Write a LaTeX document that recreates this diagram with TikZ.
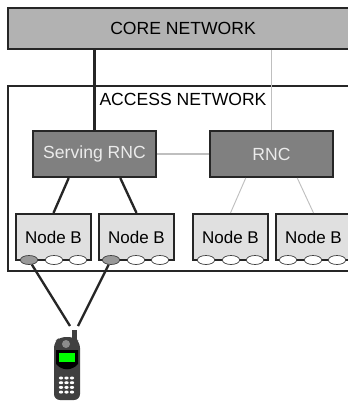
\documentclass[tikz,border=0pt]{standalone}
\usepackage{fontspec}
\setmainfont{Liberation Sans}
\usetikzlibrary{shapes}
\tikzset{
    boxline/.style={draw=black!85,line width=1.8pt,rectangle,inner sep=0pt},
    corebox/.style={boxline,fill=black!30,minimum width=10.56cm,minimum height=1.23cm,font=\fontsize{15}{18}\selectfont},
    rncbox/.style={boxline,fill=black!50,text=black!8,minimum width=3.69cm,minimum height=1.38cm,font=\fontsize{15}{18}\selectfont},
    nodebbox/.style={boxline,fill=black!12,minimum width=2.25cm,minimum height=1.38cm,font=\fontsize{14.5}{18}\selectfont},
    port/.style={draw=black!75,line width=.6pt,ellipse,fill=white,minimum width=.52cm,minimum height=.27cm,inner sep=0pt},
    activeport/.style={port,fill=black!40},
    strong/.style={draw=black!85,line width=2pt},
    weak/.style={draw=black!25,line width=1.1pt},
}
\begin{document}
\begin{tikzpicture}[x=.03cm,y=-.03cm]
    \useasboundingbox (0,0) rectangle (348,403);

    \draw[line width=1.8pt,draw=black!85] (8,271) -- (8,86) -- (360,86) -- (360,271) -- cycle;

    \node[corebox] (core) at (184,28.5) {};
    \node[font=\fontsize{15}{18}\selectfont] (coretext) at (183,28) {CORE NETWORK};
    \node[font=\fontsize{15}{18}\selectfont] (access) at (183,99) {ACCESS NETWORK};

    \node[rncbox] (serving) at (94.5,154) {Serving RNC};
    \node[rncbox] (rnc) at (271.5,154) {RNC};

    \node[nodebbox] (nodeba) at (53.5,237) {Node B};
    \node[nodebbox] (nodebb) at (136.5,237) {Node B};
    \node[nodebbox] (nodebc) at (230.5,237) {Node B};
    \node[nodebbox] (nodebd) at (313.5,237) {Node B};

    \foreach \n/\x in {a/29,b/111}{
        \node[activeport] (port\n1) at (\x,260) {};
        \node[port] (port\n2) at (\x+25,260) {};
        \node[port] (port\n3) at (\x+49,260) {};
    }
    \foreach \n/\x in {c/206,d/288}{
        \node[port] (port\n1) at (\x,260) {};
        \node[port] (port\n2) at (\x+25,260) {};
        \node[port] (port\n3) at (\x+49,260) {};
    }

    \draw[strong] (serving) -- (serving |- core.south);
    \draw[weak] (rnc) -- (rnc |- core.south);
    \draw[weak] (serving) -- (rnc);

    \draw[strong] (serving.223) -- (nodeba.north);
    \draw[strong] (serving.317) -- (nodebb.north);
    \draw[weak,line width=.8pt] (rnc.223) -- (nodebc.north);
    \draw[weak,line width=.8pt] (rnc.317) -- (nodebd.north);

    \coordinate (phoneleft) at (70,326);
    \coordinate (phoneright) at (78,326);
    \draw[strong] (porta1) -- (phoneleft);
    \draw[strong] (portb1) -- (phoneright);

    \fill[black!75] (72,330) rectangle (77,350);
    \fill[black!75,rounded corners=5pt] (54,400) -- (54,342) -- (60,337) -- (74,337) -- (80,342) -- (80,400) -- cycle;
    \fill[black] (56,350) -- (78,350) -- (78,364) .. controls (72,371) and (62,371) .. (56,364) -- cycle;
    \fill[black!45] (66,344) circle (4);
    \fill[green] (59,353) rectangle (75,362);

    \foreach \row in {0,1,2,3}{
        \foreach \col in {0,1,2}{
            \fill[white] (61+\col*5.5,378+\row*4.7) ellipse (2.2 and 1.5);
        }
    }
\end{tikzpicture}
\end{document}
